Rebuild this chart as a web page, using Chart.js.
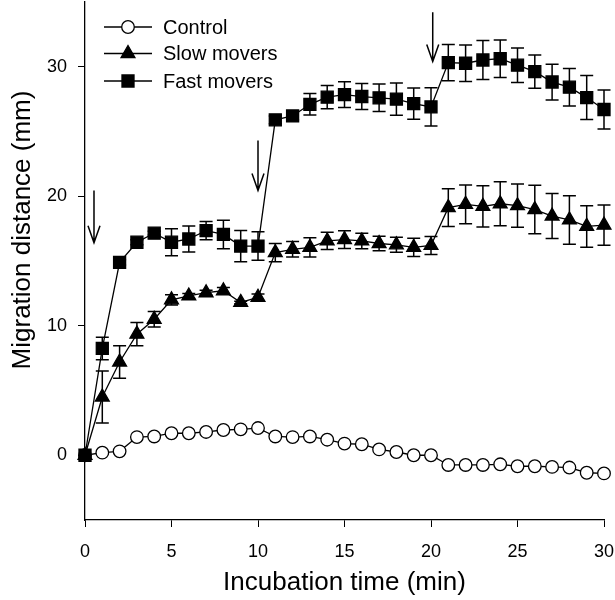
<!DOCTYPE html>
<html>
<head>
<meta charset="utf-8">
<script src="https://cdn.jsdelivr.net/npm/chart.js@4/dist/chart.umd.min.js"></script>
<style>
html,body{margin:0;padding:0;background:#fff;}
canvas{display:block;}
</style>
</head>
<body>
<canvas id="c" width="615" height="600"></canvas>
<script>
// ---- data ----
const times = [0,1,2,3,4,5,6,7,8,9,10,11,12,13,14,15,16,17,18,19,20,21,22,23,24,25,26,27,28,29,30];
const control = [0,0.2,0.3,1.4,1.45,1.7,1.7,1.8,1.95,2.0,2.1,1.45,1.4,1.45,1.2,0.9,0.85,0.45,0.25,0.0,0.0,-0.75,-0.75,-0.75,-0.7,-0.85,-0.85,-0.9,-0.95,-1.35,-1.4];
const slow = [0,4.5,7.2,9.35,10.5,12.0,12.3,12.55,12.7,11.8,12.2,15.65,15.9,16.05,16.55,16.65,16.55,16.35,16.25,16.05,16.2,19.12,19.37,19.22,19.42,19.27,18.97,18.47,18.17,17.67,17.77];
const slowErr = [0,2.0,1.25,0.9,0.6,0.4,0.2,0.2,0.25,0.1,0.25,0.7,0.6,0.75,0.67,0.68,0.6,0.56,0.58,0.7,0.7,1.45,1.5,1.6,1.7,1.67,1.87,1.74,1.87,1.6,1.55];
const fast = [0,8.25,14.9,16.45,17.15,16.45,16.7,17.35,17.05,16.15,16.15,25.9,26.2,27.1,27.65,27.85,27.7,27.6,27.5,27.15,26.9,30.32,30.27,30.52,30.62,30.12,29.62,28.82,28.42,27.62,26.7];
const fastErr = [0,0.87,0.2,0.2,0.15,1.05,1.0,0.7,1.1,1.2,1.1,0.3,0.3,0.83,0.9,1.0,1.0,1.06,1.24,1.2,1.47,1.4,1.4,1.5,1.45,1.33,1.28,1.38,1.45,1.7,1.5];
const arrowX = [0.52, 10.0, 20.1];
const arrowTail = [20.45, 24.3, 34.2];
const arrowTip = [16.4, 20.45, 30.4];
const xTicks = [0,5,10,15,20,25,30];
const yTicks = [0,10,20,30];
const seriesNames = ['Control','Slow movers','Fast movers'];
const xTitle = 'Incubation time (min)';
const yTitle = 'Migration distance (mm)';

const FONT = "'Liberation Sans', Arial, Helvetica, sans-serif";
const pts = (ys) => times.map((t,i)=>({x:t,y:ys[i]}));

const styles = [
  {style:'circle', r:6.3, fill:'#fff'},
  {style:'triangle', r:8, fill:'#000'},
  {style:'rect', r:8.5, fill:'#000'}
];

function mkDs(name, ys, st, order){
  return {
    label:name, data:pts(ys), order:order,
    borderColor:'#000', borderWidth:1.3, tension:0, fill:false, clip:false,
    pointStyle:st.style, pointRadius:st.r, pointBackgroundColor:st.fill,
    pointBorderColor:'#000', pointBorderWidth:1.3, pointHoverRadius:st.r
  };
}

const errSets = [null, slowErr, fastErr];

const errorBarPlugin = {
  id:'errbars',
  beforeDatasetsDraw(chart){
    const ctx = chart.ctx, xs = chart.scales.x, ys = chart.scales.y;
    ctx.save();
    ctx.strokeStyle = '#000'; ctx.lineWidth = 1.5;
    const vals = [control, slow, fast];
    errSets.forEach((e, k)=>{
      if(!e) return;
      times.forEach((t,i)=>{
        if(!e[i]) return;
        const px = xs.getPixelForValue(t);
        const top = ys.getPixelForValue(vals[k][i]+e[i]);
        const bot = ys.getPixelForValue(vals[k][i]-e[i]);
        const cw = 6.5;
        ctx.beginPath();
        ctx.moveTo(px, top); ctx.lineTo(px, bot);
        ctx.moveTo(px-cw, top); ctx.lineTo(px+cw, top);
        ctx.moveTo(px-cw, bot); ctx.lineTo(px+cw, bot);
        ctx.stroke();
      });
    });
    ctx.restore();
  }
};

const arrowPlugin = {
  id:'arrows',
  afterDatasetsDraw(chart){
    const ctx = chart.ctx, xs = chart.scales.x, ys = chart.scales.y;
    ctx.save();
    ctx.strokeStyle = '#000'; ctx.lineWidth = 1.5;
    arrowX.forEach((ax,i)=>{
      const px = xs.getPixelForValue(ax);
      const y1 = ys.getPixelForValue(arrowTail[i]);
      const y2 = ys.getPixelForValue(arrowTip[i]);
      ctx.beginPath();
      ctx.moveTo(px, y1); ctx.lineTo(px, y2);
      ctx.moveTo(px-6, y2-17); ctx.lineTo(px, y2); ctx.lineTo(px+6, y2-17);
      ctx.stroke();
    });
    ctx.restore();
  }
};

function drawMarker(ctx, st, x, y){
  ctx.beginPath();
  const r = st.r;
  if(st.style==='circle'){
    ctx.arc(x,y,r,0,Math.PI*2);
  } else if(st.style==='triangle'){
    ctx.moveTo(x, y-r);
    ctx.lineTo(x + Math.sin(2*Math.PI/3)*r, y - Math.cos(2*Math.PI/3)*r);
    ctx.lineTo(x + Math.sin(4*Math.PI/3)*r, y - Math.cos(4*Math.PI/3)*r);
    ctx.closePath();
  } else {
    const s = Math.SQRT1_2*r;
    ctx.rect(x-s,y-s,2*s,2*s);
  }
  ctx.fillStyle = st.fill; ctx.fill();
  ctx.strokeStyle = '#000'; ctx.lineWidth = 1.3; ctx.stroke();
}

const legendPlugin = {
  id:'customLegend',
  afterDraw(chart){
    const ctx = chart.ctx;
    ctx.save();
    const rows = [27, 53.5, 81];
    seriesNames.forEach((name,i)=>{
      const y = rows[i];
      ctx.strokeStyle='#000'; ctx.lineWidth=1.3;
      ctx.beginPath(); ctx.moveTo(104,y); ctx.lineTo(152,y); ctx.stroke();
      drawMarker(ctx, styles[i], 128, y);
      ctx.fillStyle='#000';
      ctx.font = "20px " + FONT;
      ctx.textBaseline='middle'; ctx.textAlign='left';
      ctx.fillText(name, 163, y+1);
    });
    // y axis title
    ctx.translate(23, 230);
    ctx.rotate(-Math.PI/2);
    ctx.font = "26px " + FONT;
    ctx.textAlign='center'; ctx.textBaseline='middle';
    ctx.fillText(yTitle, 0, 0);
    ctx.restore();
  }
};

new Chart(document.getElementById('c'), {
  type:'line',
  data:{datasets:[
    mkDs(seriesNames[0], control, styles[0], 2),
    mkDs(seriesNames[1], slow, styles[1], 1),
    mkDs(seriesNames[2], fast, styles[2], 0)
  ]},
  options:{
    responsive:false, animation:false, devicePixelRatio:1,
    layout:{autoPadding:false, padding:{top:2,right:11,left:0,bottom:0}},
    plugins:{legend:{display:false}, tooltip:{enabled:false}},
    scales:{
      x:{
        type:'linear', min:0, max:30,
        afterBuildTicks:(s)=>{ s.ticks = xTicks.map(v=>({value:v})); },
        afterFit:(s)=>{ s.height = 80; s.paddingLeft = 0; s.paddingRight = 0; },
        grid:{display:true, drawOnChartArea:false, drawTicks:true, tickLength:7, color:'#000', lineWidth:1},
        border:{display:true, color:'#000', width:1.3},
        ticks:{color:'#000', font:{family:FONT, size:18}, padding:14, maxRotation:0, autoSkip:false},
        title:{display:true, text:xTitle, color:'#000', font:{family:FONT, size:26}, padding:{top:0, bottom:2}}
      },
      y:{
        type:'linear', min:-5, max:35,
        afterBuildTicks:(s)=>{ s.ticks = yTicks.map(v=>({value:v})); },
        afterFit:(s)=>{ s.width = 85; s.paddingTop = 0; s.paddingBottom = 0; },
        grid:{display:true, drawOnChartArea:false, drawTicks:true, tickLength:7, color:'#000', lineWidth:1},
        border:{display:true, color:'#000', width:1.3},
        ticks:{color:'#000', font:{family:FONT, size:18}, padding:11},
        title:{display:false}
      }
    }
  },
  plugins:[errorBarPlugin, arrowPlugin, legendPlugin]
});
</script>
</body>
</html>
